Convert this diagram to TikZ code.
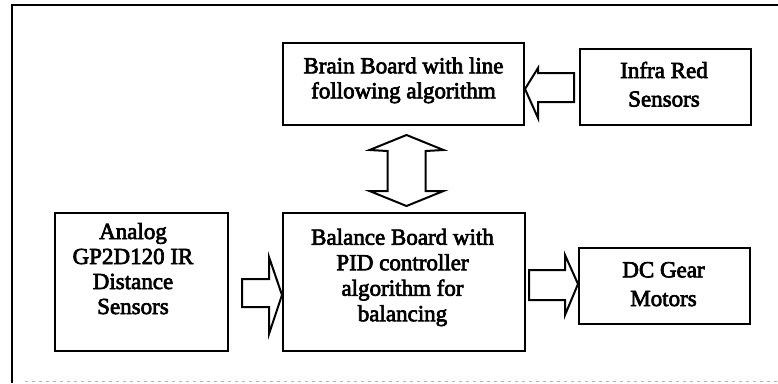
\documentclass[tikz,border=0pt]{standalone}
\usepackage{fontspec}
\setmainfont{Liberation Serif}
\newfontfamily\heavyrm{Liberation Serif}[FakeBold=3]
\usetikzlibrary{calc}
\begin{document}
\begin{tikzpicture}[x=1pt,y=-1pt,
  blk/.style={draw=black,line width=2pt,fill=white,inner sep=0pt},
  txt/.style={anchor=base,align=center,inner sep=0pt},
  barrow/.style={draw=black,line width=2pt,fill=white,line join=miter},
  frame/.style={draw=black,line width=2.5pt}]
\useasboundingbox (0,0) rectangle (778,383);
% outer frame (clipped on the right and bottom)
\draw[frame] (12,383) -- (12,5) -- (778,5);
\draw[gray!60,line width=1pt,dash pattern=on 3pt off 4pt] (25,381) -- (778,381);
% boxes
\node[blk,minimum width=241pt,minimum height=82pt] (brain) at (403.5,84) {};
\node[blk,minimum width=171pt,minimum height=76pt] (infra) at (665.5,87) {};
\node[blk,minimum width=173pt,minimum height=138pt] (analog) at (141.5,282) {};
\node[blk,minimum width=242pt,minimum height=138pt] (balance) at (404,282) {};
\node[blk,minimum width=171pt,minimum height=76pt] (dc) at (664.5,286) {};
% texts (anchor = baseline of the last line)
\node[txt,font=\heavyrm\fontsize{23}{25}\selectfont] (brainT) at (403.5,98.3) {Brain Board with line\\following algorithm};
\node[txt,font=\heavyrm\fontsize{23}{28.5}\selectfont] (infraT) at (664,106.5) {Infra Red\\Sensors};
\node[txt,font=\heavyrm\fontsize{23}{25}\selectfont] (analogT) at (133,314) {Analog\\GP2D120 IR\\Distance\\Sensors};
\node[txt,font=\heavyrm\fontsize{23}{25.5}\selectfont] (balanceT) at (402.5,321.2) {Balance Board with\\PID controller\\algorithm for\\balancing};
\node[txt,font=\heavyrm\fontsize{23}{28.7}\selectfont] (dcT) at (663.5,306) {DC Gear\\Motors};
% Infra Red -> Brain Board
\draw[barrow] ($(brain.east)+(0,5)$) -- ++(13,-21) -- ++(0,5) -- ++(36,0) -- ++(0,29) -- ++(-36,0) -- ++(0,16) -- cycle;
% Brain <-> Balance
\draw[barrow] ($(brain.south)+(3,9)$) -- ++(37,15) -- ++(-18,1) -- ++(0,40) -- ++(18,0) -- ++(-37,15) -- ++(-37,-15) -- ++(18,0) -- ++(0,-40) -- ++(-18,-1) -- cycle;
% Analog -> Balance
\draw[barrow] ($(balance.west)+(0,13)$) -- ++(-13,-38) -- ++(0,22) -- ++(-27,0) -- ++(0,28) -- ++(27,0) -- ++(0,27) -- cycle;
% Balance -> DC
\draw[barrow] ($(dc.west)+(0,-2)$) -- ++(-13,-29) -- ++(0,15) -- ++(-36,0) -- ++(0,30) -- ++(36,0) -- ++(0,15) -- cycle;
\end{tikzpicture}
\end{document}
